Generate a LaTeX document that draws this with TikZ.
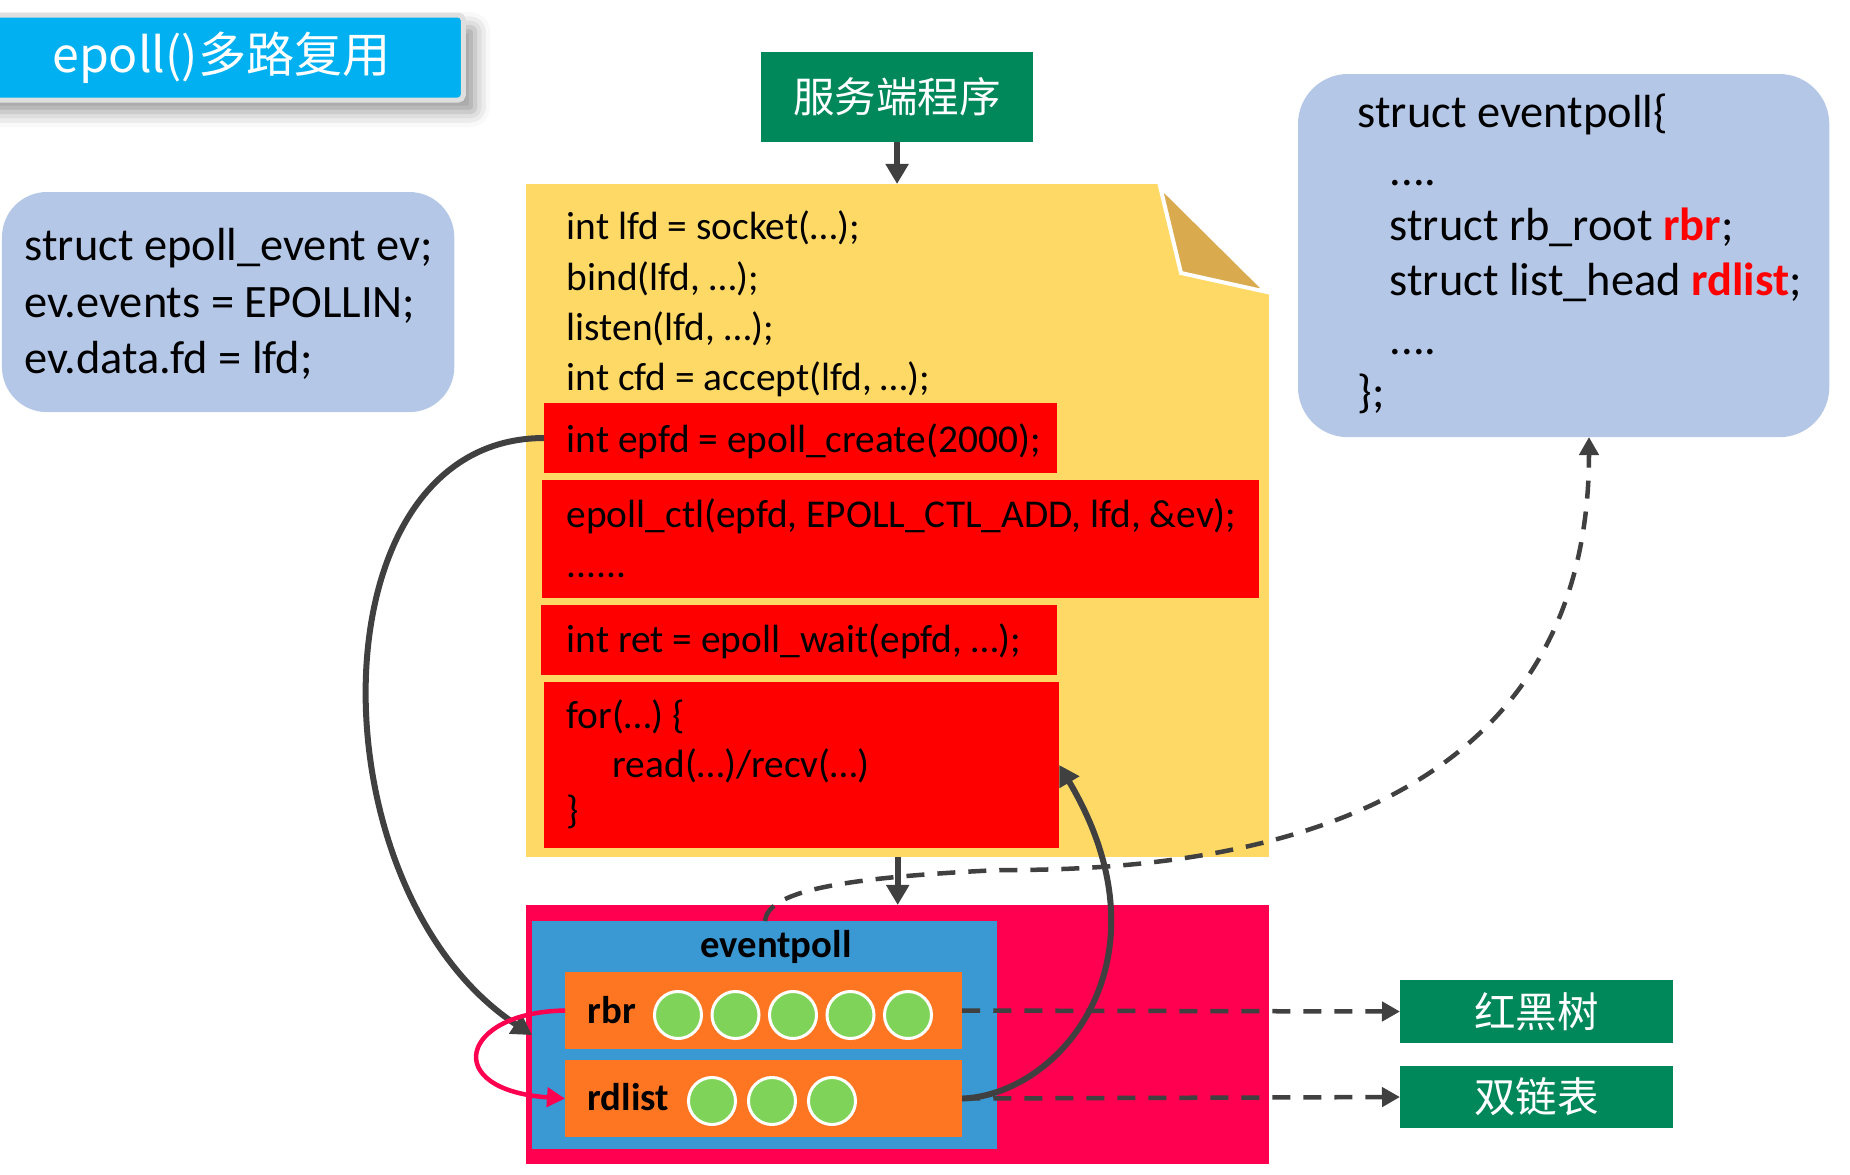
\documentclass[tikz,border=0pt]{standalone}
\usepackage{fontspec}
\setmainfont{Carlito}
\newfontfamily\cjk{Noto Sans CJK SC}
\usetikzlibrary{arrows.meta,shadows.blur}

\definecolor{titleblue}{RGB}{0,176,240}
\definecolor{boxblue}{RGB}{180,199,231}
\definecolor{docyellow}{RGB}{255,217,102}
\definecolor{docfold}{RGB}{217,170,78}
\definecolor{codered}{RGB}{255,0,0}
\definecolor{poolred}{RGB}{255,0,80}
\definecolor{evblue}{RGB}{58,153,211}
\definecolor{listorange}{RGB}{255,118,34}
\definecolor{ballgreen}{RGB}{126,211,88}
\definecolor{taggreen}{RGB}{0,135,90}
\definecolor{linegray}{RGB}{64,64,64}

\begin{document}
\begin{tikzpicture}[x=0.01cm, y=-0.01cm,
    box/.style={inner sep=0pt, outer sep=0pt, anchor=north west},
    code/.style={anchor=base west, inner sep=0pt, font=\fontsize{11.2}{13}\selectfont},
    note/.style={anchor=base west, inner sep=0pt, font=\fontsize{13.2}{16}\selectfont},
    bold/.style={anchor=base west, inner sep=0pt, font=\bfseries\fontsize{11}{13}\selectfont},
    tag/.style={box, fill=taggreen, text=white, font=\cjk\fontsize{11.8}{14}\selectfont},
    ball/.style={circle, fill=ballgreen, draw=white, line width=0.3mm, minimum size=4.7mm, inner sep=0pt},
    flow/.style={draw=linegray, line width=0.6mm, -{Triangle[length=2mm,width=2.2mm]}},
    link/.style={draw=linegray, line width=0.45mm, dash pattern=on 1.8mm off 1.3mm, -{Triangle[length=1.8mm,width=1.9mm]}},
    loopback/.style={draw=poolred, line width=0.45mm, -{Triangle[length=1.8mm,width=1.9mm]}}]
  \useasboundingbox (0,0) rectangle (1850,1175);

  % 标题
  \node[box, fill=titleblue, text=white, draw=gray!25, line width=0.5mm, rounded corners=0.5mm,
        minimum width=4.83cm, minimum height=0.85cm, font=\cjk\fontsize{13.7}{16}\selectfont,
        blur shadow={shadow xshift=1.2mm, shadow yshift=-1.2mm, shadow blur radius=1.5mm}]
        (title) at (-20,15) {epoll()多路复用};

  % 左右两个结构体
  \node[box, fill=boxblue, rounded corners=4.5mm, minimum width=4.52cm, minimum height=2.2cm] (ev) at (2,192) {};
  \node[note] (ev1) at (24,260) {struct epoll\_event ev;};
  \node[note] (ev2) at (24,317) {ev.events = EPOLLIN;};
  \node[note] (ev3) at (24,373) {ev.data.fd = lfd;};

  \node[box, fill=boxblue, rounded corners=5mm, minimum width=5.31cm, minimum height=3.63cm] (epstruct) at (1298,74) {};
  \node[note] (ep1) at (1357,127) {struct eventpoll\{};
  \node[note] (ep2) at (1389,185) {....};
  \node[note] (ep3) at (1389,240) {struct rb\_root \textcolor{codered}{\bfseries rbr};};
  \node[note] (ep4) at (1389,295) {struct list\_head \textcolor{codered}{\bfseries rdlist};};
  \node[note] (ep5) at (1389,354) {....};
  \node[note] (ep6) at (1357,407) {\};};

  % 服务端程序
  \node[tag, minimum width=2.72cm, minimum height=0.9cm] (srv) at (761,52) {服务端程序};
  \node[box, fill=docyellow, minimum width=7.43cm, minimum height=6.73cm] (prog) at (526,184) {};
  \fill[white] (1158,182) -- (1272,182) -- (1272,295) -- cycle;
  \filldraw[fill=docfold, draw=white, line width=0.4mm] (1160,186) -- (1181,273) -- (1267,292) -- cycle;

  \node[box, fill=codered, minimum width=5.13cm, minimum height=0.70cm] (create) at (544,403) {};
  \node[box, fill=codered, minimum width=7.17cm, minimum height=1.18cm] (ctl) at (542,480) {};
  \node[box, fill=codered, minimum width=5.16cm, minimum height=0.70cm] (wait) at (541,605) {};
  \node[box, fill=codered, minimum width=5.15cm, minimum height=1.66cm] (loop) at (544,682) {};

  \foreach \y/\t [count=\i] in {239/{int lfd = socket(…);}, 290/{bind(lfd, …);}, 340/{listen(lfd, …);},
      390/{int cfd = accept(lfd, …);}, 452/{int epfd = epoll\_create(2000);},
      527/{epoll\_ctl(epfd, EPOLL\_CTL\_ADD, lfd, \&ev);}, 577/{......},
      652/{int ret = epoll\_wait(epfd, …);}, 728/{for(…) \{}, 823/{\}}}
    \node[code] (c\i) at (566,\y) {\t};
  \node[code] (c11) at (612,777) {read(…)/recv(…)};

  % eventpoll
  \node[box, fill=poolred, minimum width=7.43cm, minimum height=2.59cm] (pool) at (526,905) {};
  \node[box, fill=evblue, minimum width=4.65cm, minimum height=2.28cm] (evp) at (532,921) {};
  \node[bold, anchor=base] (evtitle) at (776,957) {eventpoll};
  \node[box, fill=listorange, minimum width=3.97cm, minimum height=0.77cm] (rbrbox) at (565,972) {};
  \node[box, fill=listorange, minimum width=3.97cm, minimum height=0.77cm] (rdbox) at (565,1060) {};
  \node[bold] (rbrlabel) at (587,1023) {rbr};
  \node[bold] (rdlabel) at (587,1110) {rdlist};
  \foreach \i in {0,...,4}
    \node[ball] (rb\i) at (678+57.5*\i,1015) {};
  \foreach \i in {0,1,2}
    \node[ball] (rd\i) at (712+60*\i,1101) {};

  \node[tag, minimum width=2.73cm, minimum height=0.63cm] (rbt) at (1400,980) {红黑树};
  \node[tag, minimum width=2.73cm, minimum height=0.62cm] (dll) at (1400,1066) {双链表};

  % 连线
  \coordinate (evtop) at (765,921);
  \coordinate (eptip) at (1589,437);
  \draw[link] (evtop) .. controls (768,893) and (830,878) .. (1000,870)
              .. controls (1400,872) and (1589,720) .. (eptip);
  \draw[link] (rbrbox.east) -- (rbt.west);
  \draw[link] (rdbox.east) -- (dll.west);
  \draw[flow] (srv.south) -- (srv.south |- prog.north);
  \draw[flow] (prog.south) -- (pool.north);
  \draw[flow] (create.west) .. controls (311,438) and (311,889) .. (evp.west);
  \draw[flow] (rdbox.east) .. controls (1060,1095) and (1175,960) .. (loop.east);
  \draw[loopback] (rbrbox.west) .. controls (460,1012) and (440,1090) .. (rdbox.west);
\end{tikzpicture}
\end{document}
